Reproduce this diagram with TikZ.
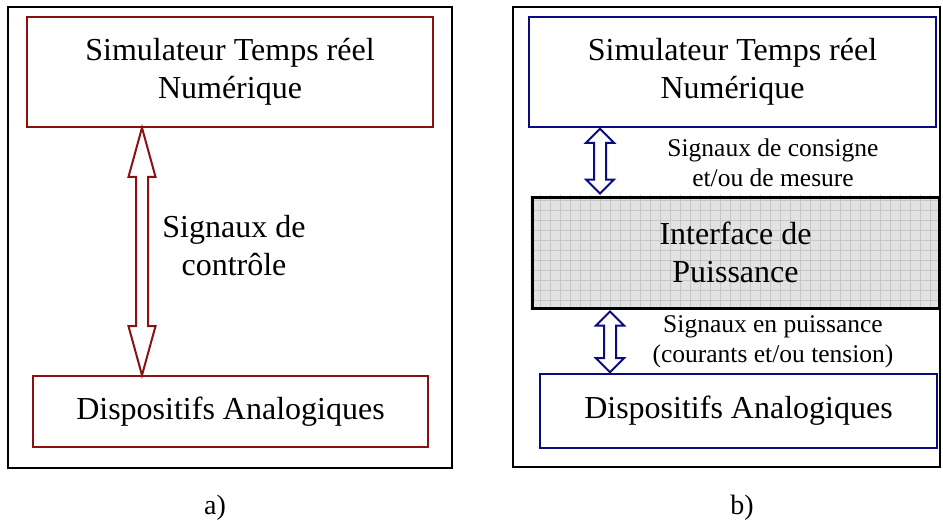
\documentclass[tikz,border=0pt]{standalone}
\usepackage{fontspec}
\setmainfont{Liberation Serif}
\usetikzlibrary{calc,backgrounds}
\definecolor{dred}{RGB}{140,16,16}
\definecolor{navy}{RGB}{10,10,130}
\definecolor{gridfill}{RGB}{226,226,226}
\definecolor{gridline}{RGB}{198,198,198}
\newcommand\hollowarrow[6]{%
  \draw[#6] (#1) -- ($(#1)+(#4,#5)$) -- ($(#1)+(#3,#5)$) -- ($(#2)+(#3,-#5)$)
    -- ($(#2)+(#4,-#5)$) -- (#2) -- ($(#2)+(-#4,-#5)$) -- ($(#2)+(-#3,-#5)$)
    -- ($(#1)+(-#3,#5)$) -- ($(#1)+(-#4,#5)$) -- cycle;}
\tikzset{
  frame/.style={draw=black, line width=1.8pt, inner sep=0pt},
  redbox/.style={draw=dred, line width=1.6pt, inner sep=0pt, align=center,
    font=\fontsize{32}{38}\selectfont},
  bluebox/.style={draw=navy, line width=1.6pt, inner sep=0pt, align=center,
    font=\fontsize{32}{38}\selectfont},
  pwrbox/.style={draw=black, line width=3pt, inner sep=0pt, align=center,
    font=\fontsize{32}{38}\selectfont},
  biglabel/.style={align=center, inner sep=0pt, font=\fontsize{32}{38}\selectfont},
  smalllabel/.style={align=center, inner sep=0pt, font=\fontsize{25.5}{30.5}\selectfont},
  caption/.style={inner sep=0pt, font=\fontsize{28}{32}\selectfont},
  redarrow/.style={draw=dred, fill=white, line width=2pt, line join=miter},
  bluearrow/.style={draw=navy, fill=white, line width=2pt, line join=miter},
}
\begin{document}
\begin{tikzpicture}[x=1pt,y=-1pt]
\useasboundingbox (0,0) rectangle (943,522);
% panel a
\node[frame, minimum width=444, minimum height=461] (fa) at (230,237.5) {};
\node[redbox, minimum width=406, minimum height=110] (ltop) at (230,72)
  {Simulateur Temps réel\\Numérique};
\node[redbox, minimum width=395, minimum height=71] (lbot) at (230.5,411.5)
  {Dispositifs Analogiques};
\node[biglabel] (llab) at (234,246) {Signaux de\\contrôle};
\coordinate (lx) at (142,0);
\coordinate (la) at (ltop.south -| lx);
\coordinate (lb) at (lbot.north -| lx);
\hollowarrow{la}{lb}{6}{13.5}{49}{redarrow}
\node[caption] (ca) at (215,508) {a)};
% panel b
\node[frame, minimum width=427, minimum height=460] (fb) at (726.5,237) {};
\node[bluebox, minimum width=407, minimum height=110] (rtop) at (732.5,72)
  {Simulateur Temps réel\\Numérique};
\node[pwrbox, minimum width=407, minimum height=111] (ifc) at (735.5,252.5)
  {Interface de\\Puissance};
\begin{scope}[on background layer]
  \fill[gridfill] (ifc.south west) rectangle (ifc.north east);
  \clip (ifc.south west) rectangle (ifc.north east);
  \draw[gridline, line width=0.7pt, step=10pt] (520,190) grid (950,320);
\end{scope}
\node[bluebox, minimum width=397, minimum height=74] (rbot) at (738.5,411)
  {Dispositifs Analogiques};
\node[smalllabel] (rlab1) at (773,163) {Signaux de consigne\\et/ou de mesure};
\node[smalllabel] (rlab2) at (773,342) {Signaux en puissance\\(courants et/ou tension)};
\coordinate (rx1) at (600,0);
\coordinate (rx2) at (610,0);
\coordinate (r1a) at ($(rtop.south -| rx1)+(0,1)$);
\coordinate (r1b) at ($(ifc.north -| rx1)+(0,-2)$);
\coordinate (r2a) at ($(ifc.south -| rx2)+(0,2)$);
\coordinate (r2b) at ($(rbot.north -| rx2)+(0,-1)$);
\hollowarrow{r1a}{r1b}{6}{14}{14}{bluearrow}
\hollowarrow{r2a}{r2b}{6}{14}{14}{bluearrow}
\node[caption] (cb) at (742,508) {b)};
\end{tikzpicture}
\end{document}
